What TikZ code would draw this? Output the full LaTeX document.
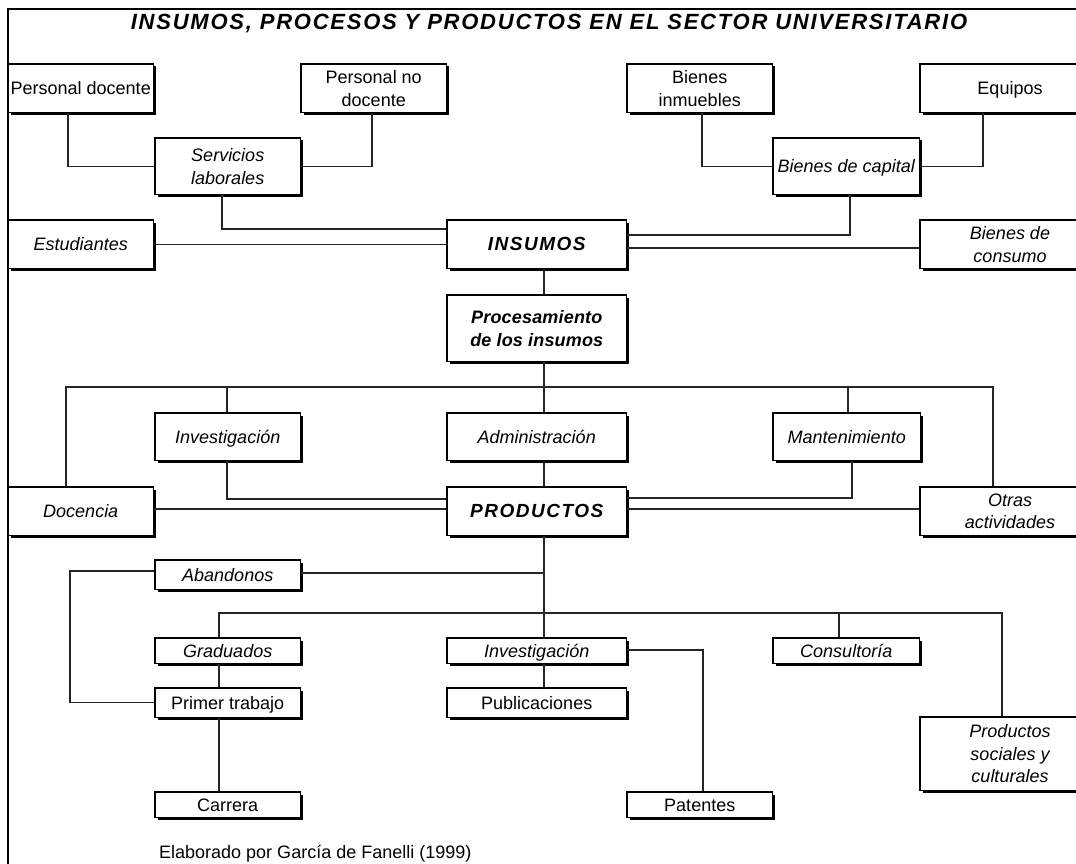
\documentclass[tikz,border=0pt]{standalone}
\usepackage{fontspec}
\setmainfont{Liberation Sans}
\newfontfamily\capsfont[LetterSpace=8]{Liberation Sans}
\newfontfamily\procfont[LetterSpace=1]{Liberation Sans}
\newfontfamily\titlefont[LetterSpace=8]{Liberation Sans}
\usetikzlibrary{shadows}

\begin{document}
\begin{tikzpicture}[x=1pt,y=-1pt,
  box/.style={draw=black, line width=1.3pt, fill=white, inner sep=0pt, align=center,
    font=\fontsize{18pt}{22.7pt}\selectfont,
    general shadow={fill=black, shadow xshift=2.5pt, shadow yshift=-2.5pt}},
  ibox/.style={box, font=\fontsize{18pt}{22.7pt}\selectfont\itshape},
  kbox/.style={box, font=\fontsize{19pt}{23.3pt}\selectfont\capsfont\bfseries\itshape},
  pbox/.style={box, font=\fontsize{18pt}{23.3pt}\selectfont\procfont\bfseries\itshape},
  one/.style={text height=13pt, text depth=0pt},
  sz/.style 2 args={minimum width=#1pt, minimum height=#2pt},
  link/.style={draw=black!85, line width=1.2pt}
]
\clip (0,0) rectangle (1076,864);
\fill[white] (0,0) rectangle (1076,864);

% frame
\draw[line width=2pt] (8,870) -- (8,9) -- (1080,9);

% title
\node[inner sep=0pt, font=\fontsize{22pt}{26pt}\selectfont\titlefont\bfseries\itshape]
  (title) at (549,24) {INSUMOS, PROCESOS Y PRODUCTOS EN EL SECTOR UNIVERSITARIO};

% inputs
\node[box,  one, sz={145.5}{48.5}] (pd)  at (80.75,88.25)  {Personal docente};
\node[box,  sz={145.5}{48.5}] (pnd) at (373.75,88.25) {Personal no\\docente};
\node[box,  sz={145.5}{48.5}] (bi)  at (699.75,88.25) {Bienes\\inmuebles};
\node[box,  one, sz={180}{48.5}]   (eq)  at (1010,88.25)   {Equipos};
\node[ibox, sz={145.5}{56.5}] (sl)  at (227.75,166.25) {Servicios\\laborales};
\node[ibox, one, sz={146.5}{56.5}] (bc)  at (846.25,166.25) {Bienes de capital};
\node[ibox, one, sz={145.5}{48.5}] (est) at (80.75,244.25)  {Estudiantes};
\node[kbox, one, sz={179.5}{48.5}] (ins) at (536.75,244.25) {INSUMOS};
\node[ibox, sz={180}{48.5}]   (bco) at (1010,244.25)   {Bienes de\\consumo};

% processing
\node[pbox, sz={179.5}{66.5}] (proc) at (536.75,328.25) {Procesamiento\\de los insumos};
\node[ibox, one, sz={145.5}{47.5}] (inv)  at (227.75,436.75) {Investigación};
\node[ibox, one, sz={179.5}{47.5}] (adm)  at (536.75,436.75) {Administración};
\node[ibox, one, sz={147.5}{47.5}] (man)  at (846.75,436.75) {Mantenimiento};
\node[ibox, one, sz={145.5}{48.5}] (doc)  at (80.75,511.25)  {Docencia};
\node[kbox, one, sz={179.5}{48.5}] (prod) at (536.75,511.25) {PRODUCTOS};
\node[ibox, sz={180}{48.5}]   (otr)  at (1010,511.25)   {Otras\\actividades};

% outputs
\node[ibox, one, sz={145.5}{29.5}] (aba)  at (227.75,574.75) {Abandonos};
\node[ibox, one, sz={145.5}{25.5}] (gra)  at (227.75,650.75) {Graduados};
\node[ibox, one, sz={179.5}{25.5}] (inv2) at (536.75,650.75) {Investigación};
\node[ibox, one, sz={146.5}{25.5}] (con)  at (846.25,650.75) {Consultoría};
\node[box,  one, sz={145.5}{29.5}] (pri)  at (227.75,702.75) {Primer trabajo};
\node[box,  one, sz={179.5}{29.5}] (pub)  at (536.75,702.75) {Publicaciones};
\node[ibox, sz={180}{73.5}]   (psc)  at (1010,753.75)   {Productos\\sociales y\\culturales};
\node[box,  one, sz={145.5}{25.5}] (car)  at (227.75,804.75) {Carrera};
\node[box,  one, sz={145.5}{25.5}] (pat)  at (699.75,804.75) {Patentes};

% source note
\node[anchor=west, inner sep=0pt, font=\fontsize{18pt}{21pt}\selectfont]
  (src) at (159,854) {Elaborado por García de Fanelli (1999)};

% junction points
\coordinate (busL) at (66,387);
\coordinate (busR) at (993,387);
\coordinate (busL2) at (219,613);
\coordinate (busR2) at (1002,613);
\coordinate (abaJ) at (544,573);

% inputs into INSUMOS
\draw[link] (pd.south -| 68,0) |- (sl.west);
\draw[link] (pnd.south -| 372,0) |- (sl.east);
\draw[link] (sl.south -| 222,0) |- (ins.west |- 0,229);
\draw[link] (est) -- (ins);
\draw[link] (bi.south -| 702,0) |- (bc.west);
\draw[link] (eq.south -| 983,0) |- (bc.east);
\draw[link] (bc.south -| 850,0) |- (ins.east |- 0,235);
\draw[link] (ins.east |- 0,248) -- (bco.west |- 0,248);
\draw[link] (ins.south -| 544,0) -- (proc.north -| 544,0);

% processing into PRODUCTOS
\draw[link] (proc.south -| 544,0) -- (adm.north -| 544,0);
\draw[link] (doc.north -| busL) -- (busL) -- (busR) -- (otr.north -| busR);
\draw[link] (inv.north -| 227,0) -- (busL -| 227,0);
\draw[link] (man.north -| 848,0) -- (busL -| 848,0);
\draw[link] (adm.south -| 544,0) -- (prod.north -| 544,0);
\draw[link] (inv.south -| 227,0) |- (prod.west |- 0,499);
\draw[link] (doc.east |- 0,509) -- (prod.west |- 0,509);
\draw[link] (man.south -| 852,0) |- (prod.east |- 0,498);
\draw[link] (prod.east |- 0,509) -- (otr.west |- 0,509);

% outputs
\draw[link] (prod.south -| 544,0) -- (inv2.north -| 544,0);
\draw[link] (aba.east |- abaJ) -- (abaJ);
\draw[link] (aba.west |- 0,571) -- (70,571) |- (pri.west);
\draw[link] (gra.north -| busL2) -- (busL2) -- (busR2) -- (psc.north -| busR2);
\draw[link] (con.north -| 839,0) -- (busL2 -| 839,0);
\draw[link] (gra.south -| 219,0) -- (pri.north -| 219,0);
\draw[link] (pri.south -| 219,0) -- (car.north -| 219,0);
\draw[link] (inv2.south -| 544,0) -- (pub.north -| 544,0);
\draw[link] (inv2.east |- 0,650) -| (pat.north -| 703,0);
\end{tikzpicture}
\end{document}
